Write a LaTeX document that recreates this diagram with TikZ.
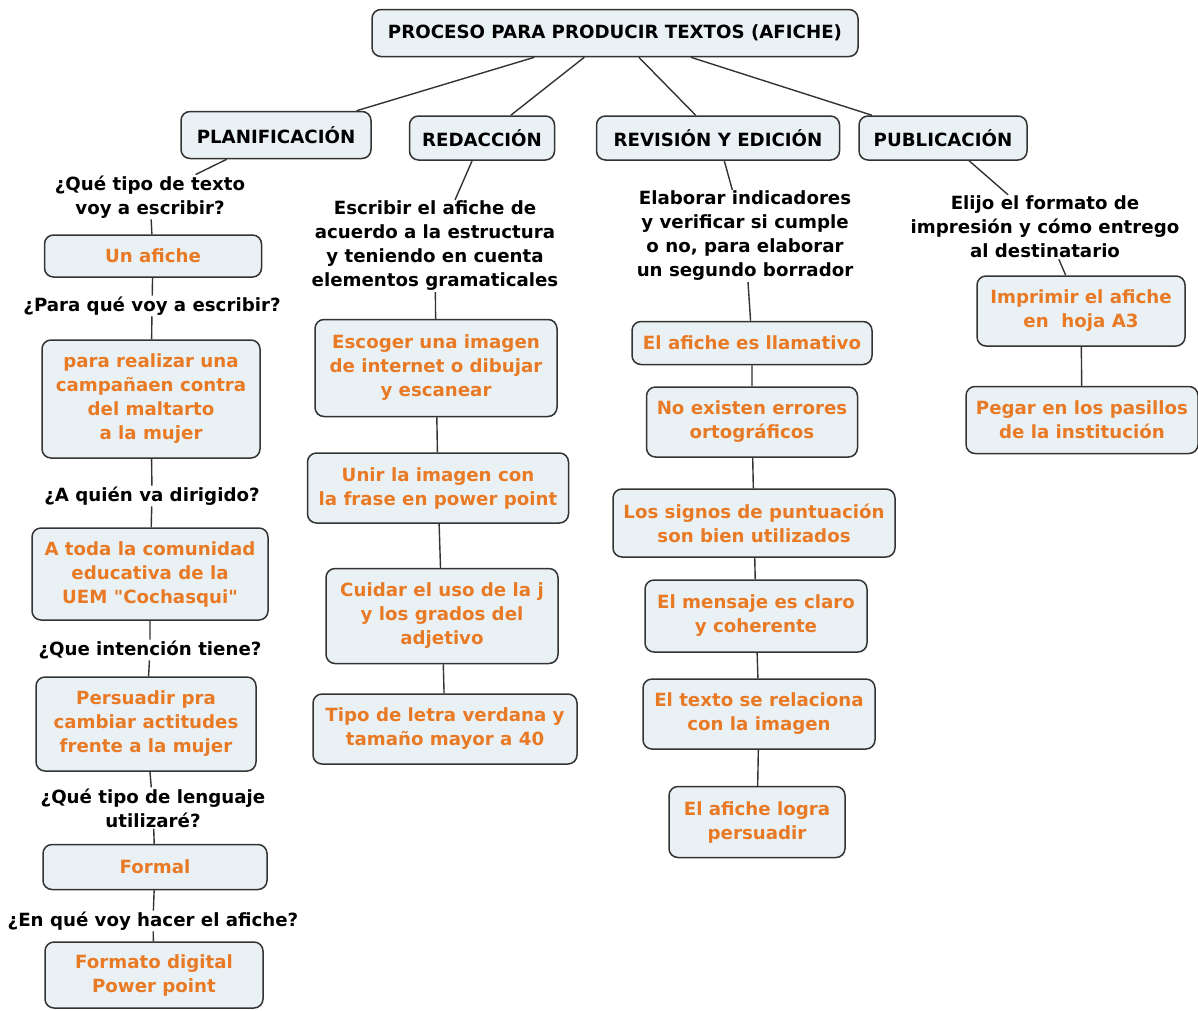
\documentclass[tikz,border=0pt]{standalone}
\usepackage{fontspec}
\setmainfont{DejaVu Sans}[Ligatures=TeXOff]
\definecolor{cmfill}{HTML}{EAF1F5}
\definecolor{cmorange}{HTML}{E97A25}
\definecolor{cmline}{HTML}{333333}

\begin{document}
\begin{tikzpicture}[x=1pt,y=-1pt,
   base/.style={font=\fontsize{18.2}{24}\selectfont\bfseries,align=center},
   headbox/.style={base,draw=cmline,line width=1.5pt,fill=cmfill,rounded corners=9pt,inner sep=2pt},
   orbox/.style={headbox,text=cmorange},
   question/.style={base,inner sep=1pt},
   link/.style={draw=cmline,line width=1.4pt}]
   \useasboundingbox (0,0) rectangle (1198,1010);
   % cabecera y etapas
   \node[headbox,minimum width=486pt,minimum height=47pt] (titulo) at (615,33) {PROCESO PARA PRODUCIR TEXTOS (AFICHE)};
   \node[headbox,minimum width=190pt,minimum height=47pt] (plan) at (276,135) {PLANIFICACIÓN};
   \node[headbox,minimum width=145pt,minimum height=44pt] (redac) at (482,138) {REDACCIÓN};
   \node[headbox,minimum width=243pt,minimum height=44pt] (revis) at (718,138) {REVISIÓN Y EDICIÓN};
   \node[headbox,minimum width=168pt,minimum height=44pt] (publi) at (943,138) {PUBLICACIÓN};
   % planificacion
   \node[question] (pq1) at (150,197) {¿Qué tipo de texto\\voy a escribir?};
   \node[orbox,minimum width=217pt,minimum height=42pt] (pb1) at (153,256) {Un afiche};
   \node[question] (pq2) at (152,306) {¿Para qué voy a escribir?};
   \node[orbox,minimum width=218pt,minimum height=118pt] (pb2) at (151,399) {para realizar una\\campañaen contra\\del maltarto\\a la mujer};
   \node[question] (pq3) at (152,496) {¿A quién va dirigido?};
   \node[orbox,minimum width=236pt,minimum height=92pt] (pb3) at (150,574) {A toda la comunidad\\educativa de la\\UEM "Cochasqui"};
   \node[question] (pq4) at (150,650) {¿Que intención tiene?};
   \node[orbox,minimum width=220pt,minimum height=94pt] (pb4) at (146,724) {Persuadir pra\\cambiar actitudes\\frente a la mujer};
   \node[question] (pq5) at (153,808) {¿Qué tipo de lenguaje\\utilizaré?};
   \node[orbox,minimum width=224pt,minimum height=45pt] (pb5) at (155,867) {Formal};
   \node[question] (pq6) at (153,921) {¿En qué voy hacer el afiche?};
   \node[orbox,minimum width=218pt,minimum height=66pt] (pb6) at (154,975) {Formato digital\\Power point};
   % redaccion
   \node[question] (rt) at (435,246) {Escribir el afiche de\\acuerdo a la estructura\\y teniendo en cuenta\\elementos gramaticales};
   \node[orbox,minimum width=242pt,minimum height=97pt] (rb1) at (436,368) {Escoger una imagen\\de internet o dibujar\\y escanear};
   \node[orbox,minimum width=261pt,minimum height=70pt] (rb2) at (438,488) {Unir la imagen con\\la frase en power point};
   \node[orbox,minimum width=232pt,minimum height=95pt] (rb3) at (442,616) {Cuidar el uso de la j\\y los grados del\\adjetivo};
   \node[orbox,minimum width=264pt,minimum height=70pt] (rb4) at (445,729) {Tipo de letra verdana y\\tamaño mayor a 40};
   % revision
   \node[question] (vt) at (745,236) {Elaborar indicadores\\y verificar si cumple\\o no, para elaborar\\un segundo borrador};
   \node[orbox,minimum width=240pt,minimum height=43pt] (vb1) at (752,343) {El afiche es llamativo};
   \node[orbox,minimum width=211pt,minimum height=70pt] (vb2) at (752,422) {No existen errores\\ortográficos};
   \node[orbox,minimum width=282pt,minimum height=68pt] (vb3) at (754,523) {Los signos de puntuación\\son bien utilizados};
   \node[orbox,minimum width=222pt,minimum height=72pt] (vb4) at (756,616) {El mensaje es claro\\y coherente};
   \node[orbox,minimum width=232pt,minimum height=70pt] (vb5) at (759,714) {El texto se relaciona\\con la imagen};
   \node[orbox,minimum width=176pt,minimum height=71pt] (vb6) at (757,822) {El afiche logra\\persuadir};
   % publicacion
   \node[question] (ut) at (1045,227) {Elijo el formato de\\impresión y cómo entrego\\al destinatario};
   \node[orbox,minimum width=208pt,minimum height=70pt] (ub1) at (1081,311) {Imprimir el afiche\\en\ \ hoja A3};
   \node[orbox,minimum width=232pt,minimum height=67pt] (ub2) at (1082,420) {Pegar en los pasillos\\de la institución};
   % enlaces
   \draw[link] (titulo) -- (plan);
   \draw[link] (titulo) -- (redac);
   \draw[link] (titulo) -- (revis);
   \draw[link] (titulo) -- (publi);
   \draw[link] (plan) -- (pq1) -- (pb1) -- (pq2) -- (pb2) -- (pq3) -- (pb3) -- (pq4) -- (pb4) -- (pq5) -- (pb5) -- (pq6) -- (pb6);
   \draw[link] (redac) -- (rt) -- (rb1) -- (rb2) -- (rb3) -- (rb4);
   \draw[link] (revis) -- (vt) -- (vb1) -- (vb2) -- (vb3) -- (vb4) -- (vb5) -- (vb6);
   \draw[link] (publi) -- (ut) -- (ub1) -- (ub2);
\end{tikzpicture}
\end{document}
